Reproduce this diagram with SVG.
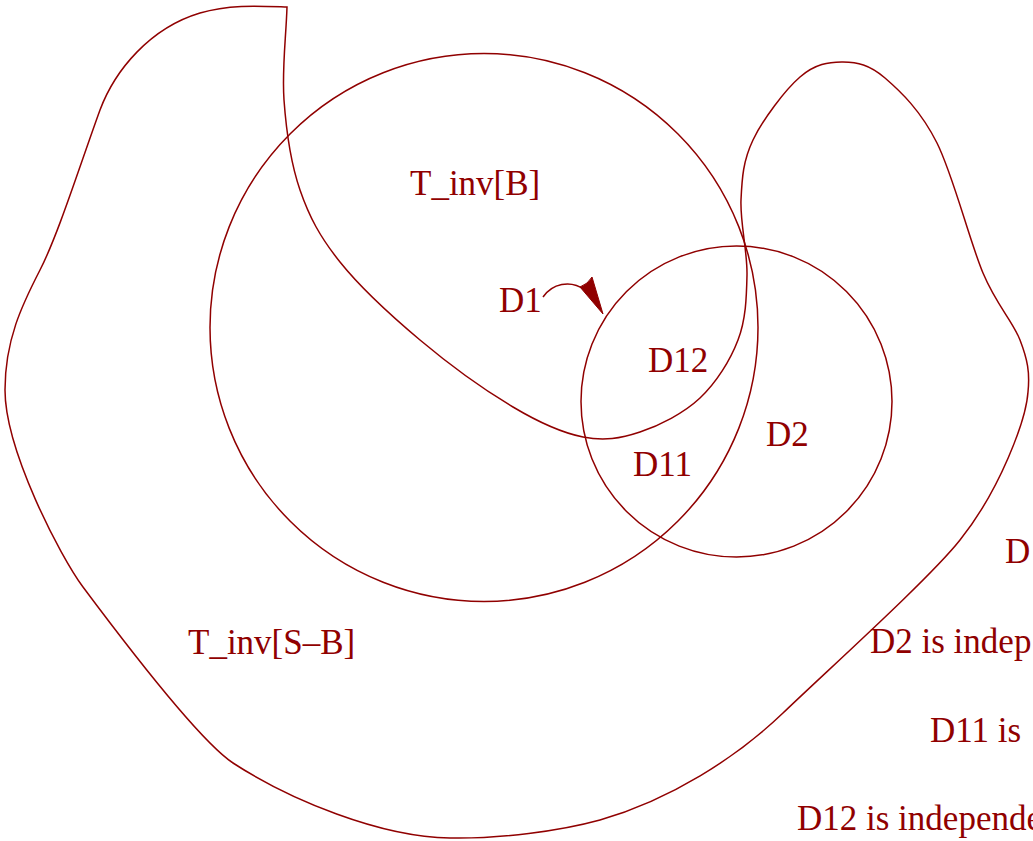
<svg xmlns="http://www.w3.org/2000/svg" width="1033" height="841" viewBox="0 0 1033 841">
<style>
.ln{fill:none;stroke:#900000;stroke-width:1.5}
.t{font-family:"Liberation Serif","Times New Roman",serif;font-size:35px;fill:#900000}
</style>
<rect width="1033" height="841" fill="#ffffff"/>
<g id="region-S-B">
<path class="ln" d="M287,7 C286,38 281.8,69.5 284,100 C286.2,130.5 290.7,163 300,190 C309.3,217 320,237 340,262 C360,287 391.2,315.8 420,340 C448.8,364.2 485.8,390.8 513,407 C540.2,423.2 561.8,432.8 583,437 C604.2,441.2 620.5,438.5 640,432 C659.5,425.5 683.7,413.3 700,398 C716.3,382.7 730.2,360.5 738,340 C745.8,319.5 746.5,298.3 747,275 C747.5,251.7 740,222.5 741,200 C742,177.5 743.2,160.5 753,140 C762.8,119.5 785,90 800,77 C815,64 828.8,61.8 843,62 C857.2,62.2 869.3,64.5 885,78 C900.7,91.5 920.7,110.5 937,143 C953.3,175.5 969.2,240.2 983,273 C996.8,305.8 1012.5,320.5 1020,340 C1027.5,359.5 1030,372 1028,392 C1026,420 1000,490 960,540 C930,578 830,668 783,713 C736,758 670,800 600,820 C560,831 500,839 450,838 C380,837 290,800 233,763 C200,741 130,650 83,587 C60,556 5,450 5,390 C5,340 22,305 40,270 C58,235 80,165 100,110 C115,70 150,28 200,13 C230,4 260,6 287,7 Z"/>
<text class="t" x="188" y="654">T_inv[S–B]</text>
</g>
<g id="region-B">
<circle class="ln" cx="484" cy="327.5" r="274"/>
<text class="t" x="410" y="195">T_inv[B]</text>
</g>
<g id="region-D2">
<circle class="ln" cx="736.5" cy="401.5" r="155.5"/>
<text class="t" x="766" y="446">D2</text>
</g>
<g id="label-D1">
<text class="t" x="499" y="312">D1</text>
</g>
<g id="label-D12">
<text class="t" x="648" y="372">D12</text>
</g>
<g id="label-D11">
<text class="t" x="633" y="476">D11</text>
</g>
<g id="connectors">
<path class="ln" d="M543,297 C552,284 570,279 585,290"/>
<path d="M603,314 L592,277 Q588,284 580,287 Z" fill="#900000" stroke="#900000" stroke-width="1" stroke-linejoin="round"/>
</g>
<g id="notes">
<text class="t" x="1005" y="563">D</text>
<text class="t" x="870" y="653">D2 is indep</text>
<text class="t" x="930" y="742">D11 is</text>
<text class="t" x="797" y="830">D12 is independe</text>
</g>
</svg>
